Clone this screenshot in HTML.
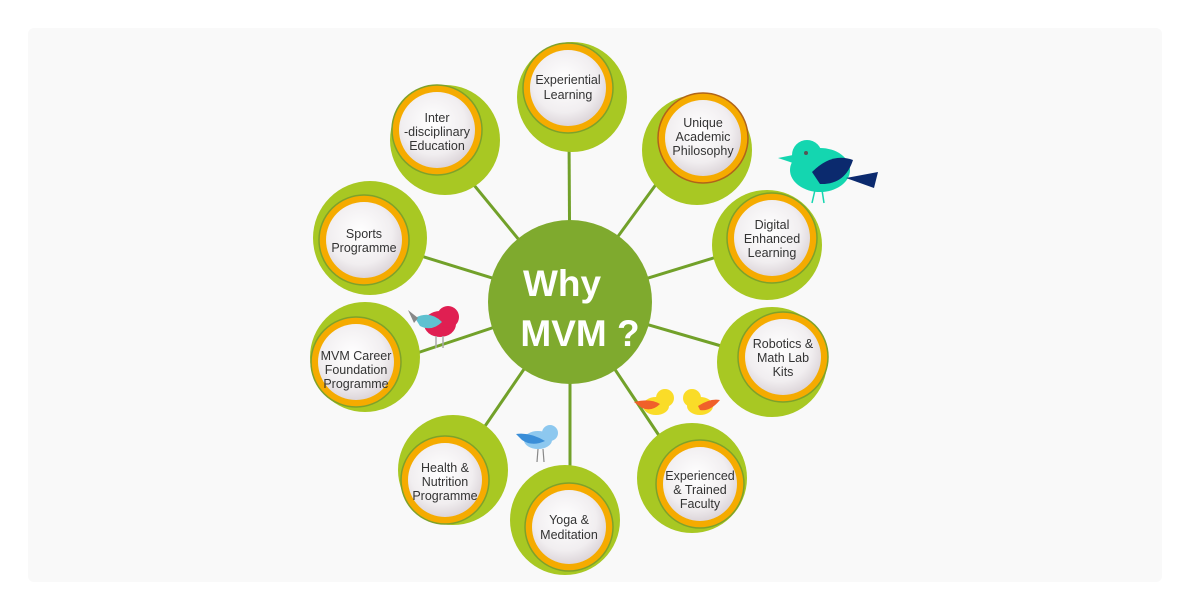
<!DOCTYPE html>
<html><head><meta charset="utf-8"><style>
html,body{margin:0;padding:0;background:#fff;}
svg{display:block}
text{font-family:"Liberation Sans",Arial,sans-serif;}
</style></head><body>
<svg width="1188" height="605" viewBox="0 0 1188 605" xmlns="http://www.w3.org/2000/svg">
<defs>
<radialGradient id="w" cx="0.45" cy="0.4" r="0.6">
<stop offset="0" stop-color="#ffffff"/><stop offset="0.7" stop-color="#f1eef0"/><stop offset="1" stop-color="#ddd6da"/>
</radialGradient>
</defs>
<rect x="28" y="28" width="1134" height="554" rx="6" fill="#f9f9f9"/>
<g stroke="#72a12a" stroke-width="3" fill="none">
<line x1="570" y1="302" x2="569" y2="135"/>
<line x1="570" y1="302" x2="668" y2="168"/>
<line x1="570" y1="302" x2="733" y2="252"/>
<line x1="570" y1="302" x2="742" y2="352"/>
<line x1="570" y1="302" x2="670" y2="452"/>
<line x1="570" y1="302" x2="570" y2="482"/>
<line x1="570" y1="302" x2="470" y2="448"/>
<line x1="570" y1="302" x2="402" y2="358"/>
<line x1="570" y1="302" x2="408" y2="252"/>
<line x1="570" y1="302" x2="460" y2="168"/>
</g>
<g>
<circle cx="572" cy="97" r="55" fill="#a8c823"/><circle cx="568" cy="88" r="45" fill="#f5ab00" stroke="#7ea22a" stroke-width="1.5"/><circle cx="568" cy="88" r="38" fill="url(#w)"/>
<circle cx="697" cy="150" r="55" fill="#a8c823"/><circle cx="703" cy="138" r="45" fill="#f5ab00" stroke="#b0641a" stroke-width="1.5"/><circle cx="703" cy="138" r="38" fill="url(#w)"/>
<circle cx="767" cy="245" r="55" fill="#a8c823"/><circle cx="772" cy="238" r="45" fill="#f5ab00" stroke="#7ea22a" stroke-width="1.5"/><circle cx="772" cy="238" r="38" fill="url(#w)"/>
<circle cx="772" cy="362" r="55" fill="#a8c823"/><circle cx="783" cy="357" r="45" fill="#f5ab00" stroke="#7ea22a" stroke-width="1.5"/><circle cx="783" cy="357" r="38" fill="url(#w)"/>
<circle cx="692" cy="478" r="55" fill="#a8c823"/><circle cx="700" cy="484" r="44" fill="#f5ab00" stroke="#7ea22a" stroke-width="1.5"/><circle cx="700" cy="484" r="37" fill="url(#w)"/>
<circle cx="565" cy="520" r="55" fill="#a8c823"/><circle cx="569" cy="527" r="44" fill="#f5ab00" stroke="#7ea22a" stroke-width="1.5"/><circle cx="569" cy="527" r="37" fill="url(#w)"/>
<circle cx="453" cy="470" r="55" fill="#a8c823"/><circle cx="445" cy="480" r="44" fill="#f5ab00" stroke="#7ea22a" stroke-width="1.5"/><circle cx="445" cy="480" r="37" fill="url(#w)"/>
<circle cx="365" cy="357" r="55" fill="#a8c823"/><circle cx="356" cy="362" r="45" fill="#f5ab00" stroke="#7ea22a" stroke-width="1.5"/><circle cx="356" cy="362" r="38" fill="url(#w)"/>
<circle cx="370" cy="238" r="57" fill="#a8c823"/><circle cx="364" cy="240" r="45" fill="#f5ab00" stroke="#7ea22a" stroke-width="1.5"/><circle cx="364" cy="240" r="38" fill="url(#w)"/>
<circle cx="445" cy="140" r="55" fill="#a8c823"/><circle cx="437" cy="130" r="45" fill="#f5ab00" stroke="#7ea22a" stroke-width="1.5"/><circle cx="437" cy="130" r="38" fill="url(#w)"/>
</g>
<circle cx="570" cy="302" r="82" fill="#7faa2e"/>
<g fill="#fff" font-size="37" font-weight="bold" text-anchor="middle">
<text x="562" y="296">Why</text>
<text x="580" y="346">MVM ?</text>
</g>
<g fill="#333" font-size="12.5" text-anchor="middle">
<text x="568" y="84">Experiential</text><text x="568" y="99">Learning</text>
<text x="703" y="127">Unique</text><text x="703" y="141">Academic</text><text x="703" y="155">Philosophy</text>
<text x="772" y="229">Digital</text><text x="772" y="243">Enhanced</text><text x="772" y="257">Learning</text>
<text x="783" y="348">Robotics &amp;</text><text x="783" y="362">Math Lab</text><text x="783" y="376">Kits</text>
<text x="700" y="480">Experienced</text><text x="700" y="494">&amp; Trained</text><text x="700" y="508">Faculty</text>
<text x="569" y="524">Yoga &amp;</text><text x="569" y="539">Meditation</text>
<text x="445" y="472">Health &amp;</text><text x="445" y="486">Nutrition</text><text x="445" y="500">Programme</text>
<text x="356" y="360">MVM Career</text><text x="356" y="374">Foundation</text><text x="356" y="388">Programme</text>
<text x="364" y="238">Sports</text><text x="364" y="252">Programme</text>
<text x="437" y="122">Inter</text><text x="437" y="136">-disciplinary</text><text x="437" y="150">Education</text>
</g>
<g>
<ellipse cx="820" cy="170" rx="30" ry="22" fill="#14d6b0"/>
<circle cx="807" cy="155" r="15" fill="#14d6b0"/>
<polygon points="793,155 778,158 793,163" fill="#14d6b0"/>
<path d="M812 172 Q832 152 853 160 Q845 185 820 184 Z" fill="#0b2a6e"/>
<polygon points="846,178 878,172 874,188" fill="#0b2a6e"/>
<circle cx="806" cy="153" r="2" fill="#555"/>
<line x1="815" y1="190" x2="812" y2="203" stroke="#14d6b0" stroke-width="1.5"/><line x1="822" y1="190" x2="824" y2="203" stroke="#14d6b0" stroke-width="1.5"/>
<ellipse cx="440" cy="324" rx="16" ry="13" fill="#e01f52"/>
<circle cx="448" cy="317" r="11" fill="#e01f52"/>
<path d="M415 318 Q430 310 442 322 Q432 332 420 326 Z" fill="#5fc1d0"/>
<polygon points="408,310 418,318 414,323" fill="#888"/>
<line x1="436" y1="336" x2="436" y2="348" stroke="#aaa" stroke-width="1.5"/><line x1="443" y1="336" x2="443" y2="348" stroke="#aaa" stroke-width="1.5"/>
<ellipse cx="538" cy="440" rx="14" ry="9" fill="#8dc8ef"/>
<circle cx="550" cy="433" r="8" fill="#8dc8ef"/>
<path d="M516 434 Q530 432 545 441 Q532 447 522 440 Z" fill="#3a8ed8"/>
<line x1="538" y1="449" x2="537" y2="462" stroke="#888" stroke-width="1.2"/><line x1="543" y1="449" x2="544" y2="462" stroke="#888" stroke-width="1.2"/>
<ellipse cx="656" cy="406" rx="13" ry="9" fill="#fadc28"/><circle cx="665" cy="398" r="9" fill="#fadc28"/>
<path d="M634 402 Q650 398 660 404 Q652 412 642 408 Z" fill="#f0602a"/>
<ellipse cx="700" cy="406" rx="13" ry="9" fill="#fadc28"/><circle cx="692" cy="398" r="9" fill="#fadc28"/>
<path d="M698 406 Q710 398 720 400 Q710 412 700 410 Z" fill="#f0602a"/>
</g>
</svg>
</body></html>
